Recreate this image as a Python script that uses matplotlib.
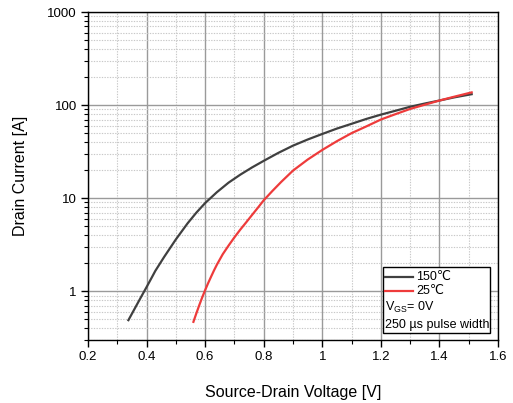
import matplotlib
matplotlib.use("Agg")
import matplotlib.pyplot as plt
from matplotlib.ticker import LogLocator, MultipleLocator, FixedLocator, FixedFormatter, NullFormatter
from matplotlib.lines import Line2D
from matplotlib.patches import Rectangle

plt.rcParams['font.family'] = ['Liberation Sans', 'DejaVu Sans']
plt.rcParams['mathtext.default'] = 'regular'

# Body diode forward characteristics
v_150 = [0.338, 0.36, 0.38, 0.40, 0.42, 0.43, 0.46, 0.50, 0.54, 0.57, 0.60,
         0.64, 0.68, 0.72, 0.76, 0.80, 0.85, 0.90, 0.95, 1.00, 1.05, 1.10,
         1.15, 1.20, 1.25, 1.30, 1.35, 1.40, 1.45, 1.51]
i_150 = [0.49, 0.656, 0.855, 1.11, 1.45, 1.66, 2.34, 3.61, 5.37, 7.0, 8.87,
         11.6, 14.7, 17.9, 21.4, 25.2, 30.7, 36.7, 42.7, 49, 56, 63,
         71, 79, 87, 96, 104, 112, 121, 131]

v_25 = [0.56, 0.57, 0.58, 0.59, 0.60, 0.61, 0.62, 0.63, 0.64, 0.66, 0.68,
        0.70, 0.72, 0.74, 0.76, 0.78, 0.80, 0.83, 0.86, 0.90, 0.95, 1.00,
        1.05, 1.10, 1.15, 1.20, 1.25, 1.30, 1.35, 1.40, 1.45, 1.51]
i_25 = [0.47, 0.58, 0.71, 0.86, 1.03, 1.22, 1.43, 1.67, 1.93, 2.5, 3.1,
        3.8, 4.6, 5.5, 6.6, 7.9, 9.5, 12.0, 15.0, 19.8, 26, 33,
        41, 50, 59, 70, 80, 91, 101, 112, 123, 137]

x_ticks = [0.2, 0.4, 0.6, 0.8, 1.0, 1.2, 1.4, 1.6]
x_tick_labels = ['0.2', '0.4', '0.6', '0.8', '1', '1.2', '1.4', '1.6']
y_ticks = [1, 10, 100, 1000]
y_tick_labels = ['1', '10', '100', '1000']

series_labels = ['150\u2103', '25\u2103']
note_lines = ['V$_{GS}$= 0V', '250 \u00b5s pulse width']

c_150 = '#404040'
c_25 = '#ee3b3b'

fig = plt.figure(figsize=(5.13, 4.03), dpi=100)
ax = fig.add_axes([0.1715, 0.1563, 0.7993, 0.8139])

ax.plot(v_150, i_150, color=c_150, lw=1.6, zorder=3, solid_joinstyle='round')
ax.plot(v_25, i_25, color=c_25, lw=1.6, zorder=3, solid_joinstyle='round')

ax.set_yscale('log')
ax.set_xlim(0.2, 1.6)
ax.set_ylim(0.3, 1000)

ax.xaxis.set_major_locator(FixedLocator(x_ticks))
ax.xaxis.set_major_formatter(FixedFormatter(x_tick_labels))
ax.xaxis.set_minor_locator(MultipleLocator(0.1))
ax.yaxis.set_major_locator(FixedLocator(y_ticks))
ax.yaxis.set_major_formatter(FixedFormatter(y_tick_labels))
ax.yaxis.set_minor_locator(LogLocator(base=10, subs=range(2, 10)))
ax.yaxis.set_minor_formatter(NullFormatter())

ax.grid(which='major', color='#9a9a9a', lw=1.0, ls='-')
ax.grid(which='minor', color='#c8c8c8', lw=0.8, ls=(0, (1.2, 1.2)))
ax.set_axisbelow(True)

ax.tick_params(which='major', direction='out', length=5, width=1.0,
               labelsize=9.5, colors='black', pad=3)
ax.tick_params(which='minor', direction='out', length=3, width=0.8)
for s in ax.spines.values():
    s.set_color('black')
    s.set_linewidth(1.0)

ax.set_xlabel('Source-Drain Voltage [V]', fontsize=11.5, labelpad=16)
ax.set_ylabel('Drain Current [A]', fontsize=11.5, labelpad=14)

# Legend box with notes
tr = ax.transAxes
def ax_xy(px, py):
    return ((px - 88) / 410.0, (340 - py) / 328.0)

x0, y0 = ax_xy(383, 333)
x1, y1 = ax_xy(490, 267)
ax.add_patch(Rectangle((x0, y0), x1 - x0, y1 - y0, transform=tr,
                       facecolor='white', edgecolor='black', lw=1.0, zorder=5))
for lbl, col, py in [(series_labels[0], c_150, 277), (series_labels[1], c_25, 291)]:
    lx0, ly = ax_xy(385, py)
    lx1, _ = ax_xy(413, py)
    ax.add_line(Line2D([lx0, lx1], [ly, ly], transform=tr, color=col, lw=1.6, zorder=6))
    tx, _ = ax_xy(416, py)
    ax.text(tx, ly, lbl, transform=tr, fontsize=9, va='center', ha='left', zorder=6)
for txt, py in zip(note_lines, [307, 325]):
    tx, ty = ax_xy(385, py)
    ax.text(tx, ty, txt, transform=tr, fontsize=9, va='center', ha='left', zorder=6)

fig.savefig('out.png', dpi=100)
